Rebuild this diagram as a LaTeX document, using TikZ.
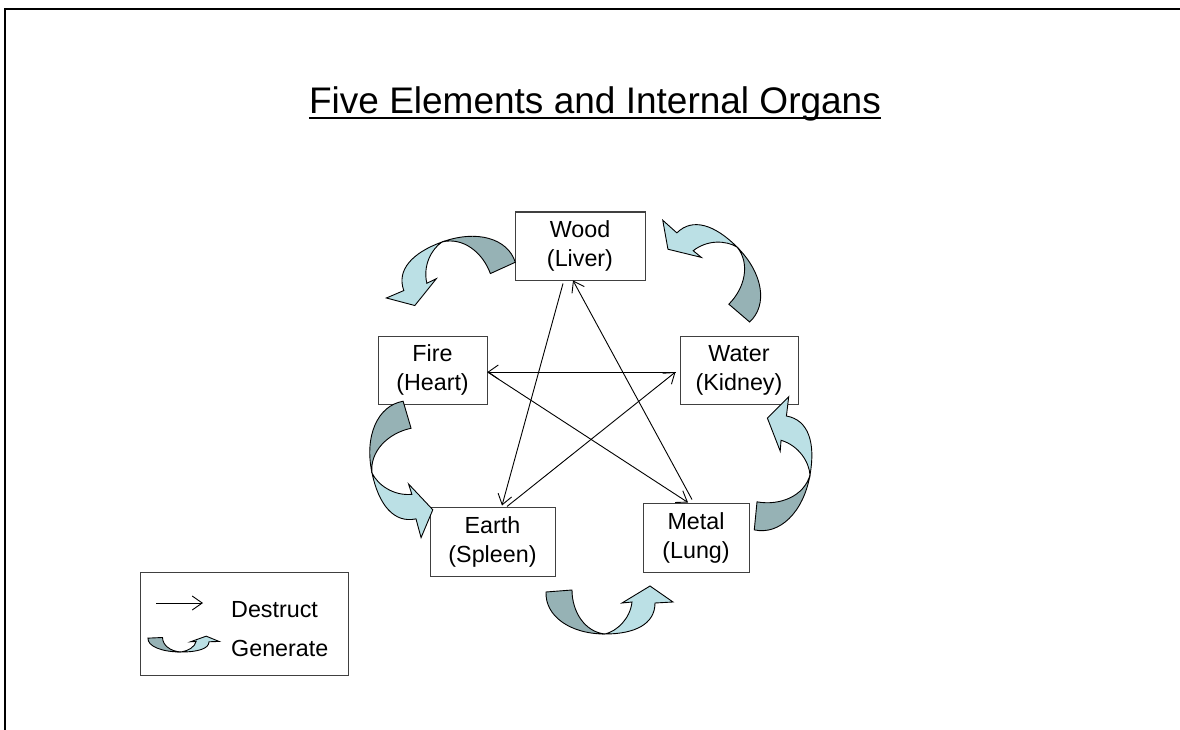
\documentclass[tikz,border=0pt]{standalone}
\usepackage{fontspec}
\setmainfont{Liberation Sans}
\usepackage{xcolor}
\usetikzlibrary{arrows.meta}

\definecolor{gendark}{RGB}{150,178,181}
\definecolor{genlight}{RGB}{187,224,229}

% one twisted "generate" band, twist point at the origin
\tikzset{
  genarrow/.pic={
    \filldraw[fill=gendark, band] (-59,-42) .. controls (-60,-18) and (-35,0) .. (0,0)
      .. controls (-20,-2) and (-33,-22) .. (-33,-44) -- cycle;
    \filldraw[fill=genlight, band] (0,0) .. controls (30,0) and (50,-10) .. (50,-31)
      -- (68,-32) -- (45,-48) -- (17,-31) -- (27,-32)
      .. controls (25,-15) and (12,-3) .. (0,0) -- cycle;
  }
}

\begin{document}
\begin{tikzpicture}[
    x=1pt, y=-1pt,
    element/.style={rectangle, draw=black!75, line width=1pt, align=center, inner sep=0pt,
      minimum height=68pt, font=\fontsize{23.3}{29}\selectfont},
    legendtext/.style={anchor=base west, inner sep=0pt, font=\fontsize{23.3}{29}\selectfont},
    destruct/.style={-{Straight Barb[length=10pt,width=14pt]}, line width=0.9pt},
    band/.style={draw=black, line width=0.9pt}
]
\useasboundingbox (0,0) rectangle (1180,730);

% Frame
\draw[line width=2.5pt] (5,730) -- (5,9) -- (1180,9);

% Title
\node[anchor=base, inner sep=0pt, font=\fontsize{37}{44}\selectfont] (title) at (595,114) {Five Elements and Internal Organs};
\draw[line width=2pt] ([yshift=-4pt]title.base west) -- ([yshift=-4pt]title.base east);

% Elements
\node[element, minimum width=130pt] (wood) at (580,246) {Wood\\(Liver)};
\node[element, minimum width=109pt] (fire) at (432.5,370) {Fire\\(Heart)};
\node[element, minimum width=118pt] (water) at (739,370) {Water\\(Kidney)};
\node[element, minimum width=125pt, minimum height=69pt] (earth) at (492.5,541.5) {Earth\\(Spleen)};
\node[element, minimum width=106pt, minimum height=69pt] (metal) at (696,537.5) {Metal\\(Lung)};

% Destruct cycle
\draw[destruct] ([xshift=-17pt,yshift=-3pt]wood.south) -- ([xshift=9.5pt,yshift=1pt]earth.north);
\draw[destruct] ([xshift=14.5pt]earth.north) -- ([xshift=-4pt,yshift=-2pt]water.west);
\draw[destruct] ([xshift=-4pt,yshift=-2pt]water.west) -- ([yshift=-2pt]fire.east);
\draw[destruct] ([yshift=-2pt]fire.east) -- ([xshift=-8pt]metal.north);
\draw[destruct] ([xshift=-4pt,yshift=3pt]metal.north) -- ([xshift=-7pt]wood.south);

% Generate cycle
\pic[rotate=200, scale=1.05] at (442,242) {genarrow};
\pic[rotate=-78, scale=1.08] at (372,473) {genarrow};
\pic at (605,634) {genarrow};
\pic[rotate=80, scale=1.08] at (810,475) {genarrow};
\pic[rotate=135, scale=1.05] at (737,247) {genarrow};

% Legend
\node[draw=black!75, line width=1pt, minimum width=208pt, minimum height=103pt, inner sep=0pt] (legend) at (244,623.5) {};
\coordinate (dfrom) at (156,603);
\coordinate (dto) at (203,603);
\draw[destruct] (dfrom) -- (dto);
\node[legendtext] (destructlabel) at (231,617) {Destruct};
\pic[xscale=0.56, yscale=0.33] at (181,652) {genarrow};
\node[legendtext] (generatelabel) at (231,656) {Generate};

\end{tikzpicture}
\end{document}
